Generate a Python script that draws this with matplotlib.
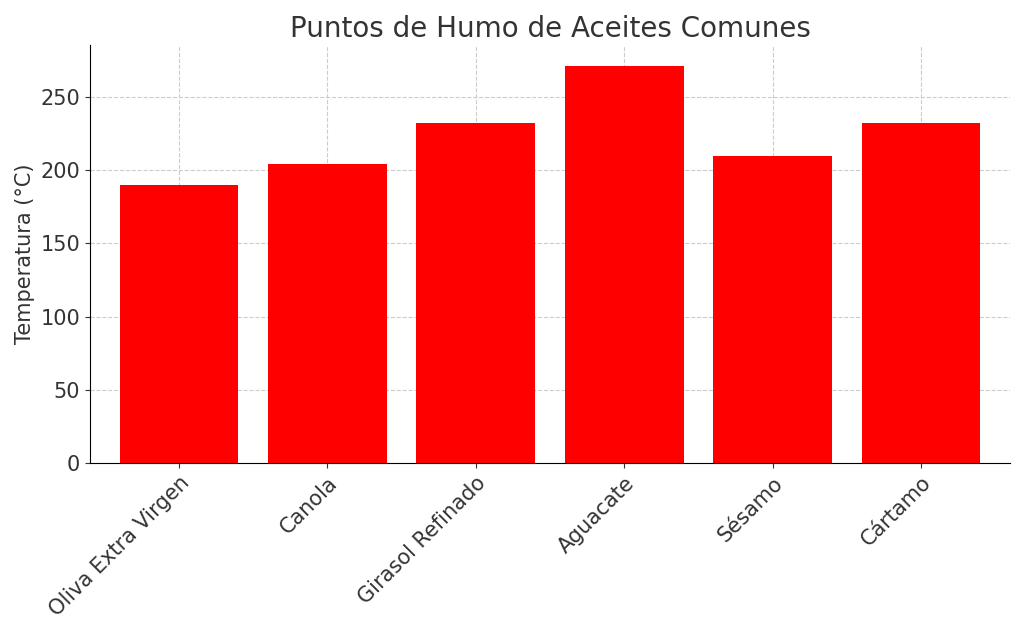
import matplotlib
matplotlib.use("Agg")
import matplotlib.pyplot as plt

categories = ["Oliva Extra Virgen", "Canola", "Girasol Refinado", "Aguacate", "Sésamo", "Cártamo"]
values = [190, 204, 232, 271, 210, 232]

fig = plt.figure(figsize=(10.24, 6.35), dpi=100)
ax = fig.add_axes([90/1024, 1-463/635, 920/1024, (463-45)/635])
ax.bar(categories, values, color="#ff0000", width=0.8, zorder=2)
ax.grid(True, linestyle="--", color="#cccccc", linewidth=0.8, zorder=3)
ax.set_ylim(0, 285.5)
ax.set_xlim(-0.6, 5.6)
for s in ["top", "right"]:
    ax.spines[s].set_visible(False)
ax.tick_params(labelsize=15, colors="#333333")
plt.setp(ax.get_xticklabels(), rotation=45, ha="right", rotation_mode="anchor")
ax.set_ylabel("Temperatura (°C)", fontsize=15, color="#333333")
ax.set_title("Puntos de Humo de Aceites Comunes", fontsize=20, color="#333333", pad=6)
fig.savefig("out.png", dpi=100)
